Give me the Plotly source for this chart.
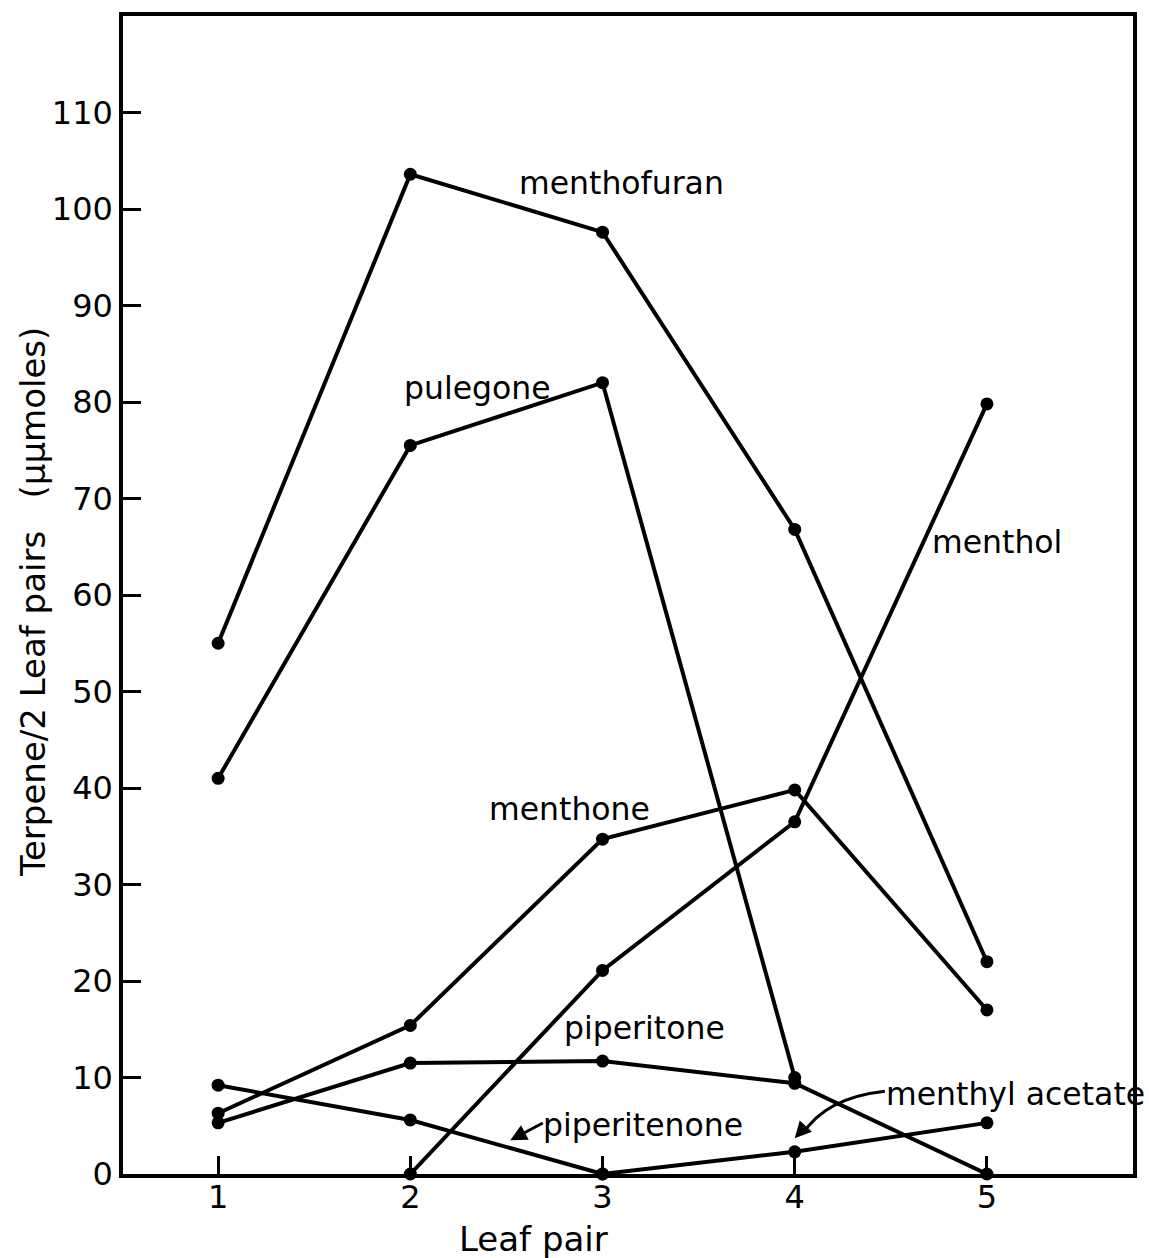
import plotly.graph_objects as go

# Terpene content of peppermint leaves by leaf-pair position
leaf_pair = [1, 2, 3, 4, 5]

menthofuran = [55.0, 103.6, 97.6, 66.8, 22.0]
pulegone = [41.0, 75.5, 82.0, 10.0]
menthone = [6.3, 15.4, 34.7, 39.8, 17.0]
menthol = [None, 0.0, 21.1, 36.5, 79.8]
piperitone = [5.3, 11.5, 11.7, 9.4, 0.0]
piperitenone = [9.2, 5.6, 0.0]
menthyl_acetate = [None, None, 0.0, 2.3, 5.3]

series = [
    ("menthofuran", menthofuran),
    ("pulegone", pulegone),
    ("menthone", menthone),
    ("menthol", menthol),
    ("piperitone", piperitone),
    ("piperitenone", piperitenone),
    ("menthyl acetate", menthyl_acetate),
]

y_ticks = list(range(0, 111, 10))
x_ticks = [1, 2, 3, 4, 5]

# Series label placement (leaf pair, terpene level)
labels = [
    ("menthofuran", 3.10, 102.7),
    ("pulegone", 2.35, 81.5),
    ("menthol", 5.05, 65.5),
    ("menthone", 2.83, 37.8),
    ("piperitone", 3.22, 15.1),
    ("piperitenone", 3.21, 5.1),
    ("menthyl acetate", 5.15, 8.3),
]

FONT = "DejaVu Sans"
INK = "black"

fig = go.Figure()
for name, vals in series:
    fig.add_trace(go.Scatter(
        x=leaf_pair[:len(vals)], y=vals, name=name, mode="lines+markers",
        line=dict(color=INK, width=4),
        marker=dict(color=INK, size=13),
        cliponaxis=False, connectgaps=False, showlegend=False,
    ))

annotations = []
for text, lx, ly in labels:
    annotations.append(dict(
        x=lx, y=ly, xref="x", yref="y", text=text, showarrow=False,
        font=dict(family=FONT, size=31.5, color=INK),
        xanchor="center", yanchor="middle",
    ))

# pointer to the piperitenone curve
annotations.append(dict(
    x=2.52, y=3.5, xref="x", yref="y", text="", showarrow=True,
    ax=34, ay=-18, arrowhead=2, arrowsize=1.1, arrowwidth=3, arrowcolor=INK,
))
# head of the curved pointer to menthyl acetate
annotations.append(dict(
    x=4.0, y=3.7, xref="x", yref="y", text="", showarrow=True,
    ax=10, ay=-11, arrowhead=2, arrowsize=1.1, arrowwidth=3, arrowcolor=INK,
))

# axis titles
annotations.append(dict(
    x=-0.089, y=0.494, xref="paper", yref="paper",
    text="Terpene/2 Leaf pairs   (μμmoles)", textangle=-90, showarrow=False,
    font=dict(family=FONT, size=34, color=INK), xanchor="center", yanchor="middle",
))
annotations.append(dict(
    x=0.406, y=-0.056, xref="paper", yref="paper", text="Leaf pair",
    showarrow=False, font=dict(family=FONT, size=34, color=INK),
    xanchor="center", yanchor="middle",
))

shapes = [dict(
    type="path", xref="x", yref="y",
    path="M 4.469 8.57 Q 4.16 7.9 4.04 4.1",
    line=dict(color=INK, width=3),
)]

fig.update_layout(
    width=1149, height=1258,
    margin=dict(l=123, r=16, t=12, b=84),
    paper_bgcolor="white", plot_bgcolor="white",
    annotations=annotations, shapes=shapes,
    xaxis=dict(
        range=[0.505, 5.76], tickvals=x_ticks, ticktext=[str(v) for v in x_ticks],
        ticks="inside", ticklen=18, tickwidth=3, tickcolor=INK,
        showline=True, linecolor=INK, linewidth=3.5, mirror=True,
        showgrid=False, zeroline=False, ticklabelstandoff=-8,
        tickfont=dict(family=FONT, size=32, color=INK),
    ),
    yaxis=dict(
        range=[0, 120], tickvals=y_ticks, ticktext=[str(v) for v in y_ticks],
        ticks="inside", ticklen=18, tickwidth=3, tickcolor=INK,
        showline=True, linecolor=INK, linewidth=3.5, mirror=True,
        showgrid=False, zeroline=False,
        tickfont=dict(family=FONT, size=32, color=INK),
    ),
)

fig.write_html("out.html")
